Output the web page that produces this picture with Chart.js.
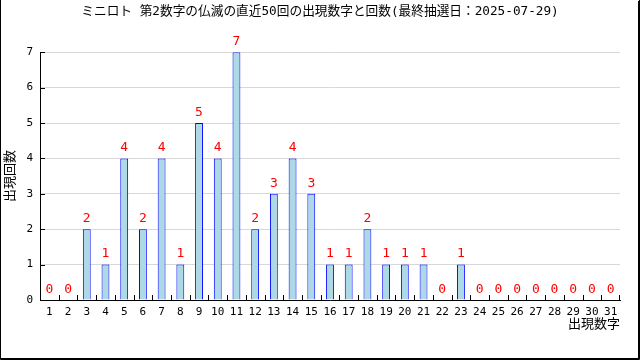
<!DOCTYPE html>
<html>
<head>
<meta charset="utf-8">
<script src="https://cdn.jsdelivr.net/npm/chart.js@4.4.0/dist/chart.umd.min.js"></script>
<style>
html,body{margin:0;padding:0;background:#fff;}
#wrap{width:640px;height:360px;position:relative;}
</style>
</head>
<body>
<div id="wrap"><canvas id="c" width="640" height="360"></canvas></div>
<script>
const titleText = "ミニロト 第2数字の仏滅の直近50回の出現数字と回数(最終抽選日：2025-07-29)";
const xTitle = "出現数字";
const yTitle = "出現回数";
const numbers = ["1","2","3","4","5","6","7","8","9","10","11","12","13","14","15","16","17","18","19","20","21","22","23","24","25","26","27","28","29","30","31"];
const counts = [0,0,2,1,4,2,4,1,5,4,7,2,3,4,3,1,1,2,1,1,1,0,1,0,0,0,0,0,0,0,0];
const yTicks = [0,1,2,3,4,5,6,7];

const FONT = '"DejaVu Sans Mono", "Noto Sans CJK JP", monospace';

const framePlugin = {
  id: 'frame',
  beforeDraw(chart) {
    const ctx = chart.ctx;
    ctx.save();
    ctx.fillStyle = '#fff';
    ctx.fillRect(0, 0, chart.width, chart.height);
    ctx.restore();
  },
  afterDraw(chart) {
    const ctx = chart.ctx;
    ctx.save();
    ctx.strokeStyle = '#000';
    ctx.lineWidth = 1;
    ctx.beginPath();
    ctx.moveTo(0.5, 0); ctx.lineTo(0.5, 359.5);
    ctx.lineTo(639.5, 359.5); ctx.lineTo(639.5, 0);
    ctx.stroke();
    ctx.beginPath();
    ctx.moveTo(1, 358.5); ctx.lineTo(639, 358.5);
    ctx.moveTo(638.5, 1); ctx.lineTo(638.5, 359);
    ctx.stroke();
    ctx.restore();
  }
};

const ticksPlugin = {
  id: 'innerTicks',
  afterDatasetsDraw(chart) {
    const ctx = chart.ctx;
    const xs = chart.scales.x, ys = chart.scales.y;
    const area = chart.chartArea;
    ctx.save();
    ctx.strokeStyle = '#000';
    ctx.lineWidth = 1;
    ctx.beginPath();
    const half = (xs.getPixelForValue(1) - xs.getPixelForValue(0)) / 2;
    for (let i = 0; i < numbers.length; i++) {
      const px = Math.round(xs.getPixelForValue(i) - half) + 0.5;
      ctx.moveTo(px, area.bottom); ctx.lineTo(px, area.bottom - 5);
    }
    const pr = Math.round(xs.getPixelForValue(numbers.length - 1) + half) - 0.5;
    ctx.moveTo(pr, area.bottom); ctx.lineTo(pr, area.bottom - 5);
    yTicks.forEach(v => {
      const py = Math.round(ys.getPixelForValue(v)) + 0.5;
      ctx.moveTo(area.left, py); ctx.lineTo(area.left + 5, py);
    });
    ctx.stroke();
    // data labels
    const meta = chart.getDatasetMeta(0);
    ctx.fillStyle = '#ff0000';
    ctx.font = '13px ' + FONT;
    ctx.textAlign = 'center';
    ctx.textBaseline = 'bottom';
    meta.data.forEach((bar, i) => {
      ctx.fillText(String(counts[i]), bar.x, bar.y - 4);
    });
    ctx.restore();
  }
};

new Chart(document.getElementById('c'), {
  type: 'bar',
  data: {
    labels: numbers,
    datasets: [{
      data: counts,
      backgroundColor: '#add8e6',
      borderColor: '#0000ff',
      borderWidth: 1,
      borderSkipped: 'bottom',
      categoryPercentage: 1.0,
      barPercentage: 0.42,
      inflateAmount: 0
    }]
  },
  options: {
    responsive: false,
    animation: false,
    devicePixelRatio: 1,
    layout: { padding: 0 },
    plugins: {
      legend: { display: false },
      tooltip: { enabled: false },
      title: {
        display: true,
        text: titleText,
        color: '#000',
        font: { family: FONT, size: 12.7, weight: 'normal' },
        padding: { top: 4, bottom: 33 }
      }
    },
    scales: {
      x: {
        grid: { display: false, drawTicks: false },
        border: { display: true, color: '#000', width: 1 },
        ticks: { color: '#000', font: { family: FONT, size: 11 }, padding: 6, maxRotation: 0, autoSkip: false },
        title: { display: true, text: xTitle, align: 'end', color: '#000', font: { family: FONT, size: 13 }, padding: { top: 0, bottom: 28 } },
        afterFit(s) { s.height = 60; }
      },
      y: {
        min: 0, max: 7,
        grid: { color: '#d8d8d8', drawTicks: false },
        border: { display: true, color: '#000', width: 1 },
        ticks: { stepSize: 1, color: '#000', font: { family: FONT, size: 11 }, padding: 7 },
        title: { display: true, text: yTitle, color: '#000', font: { family: FONT, size: 13 }, padding: { top: 3, bottom: 0 } },
        afterFit(s) { s.width = 40; }
      },
      yRight: {
        position: 'right',
        display: true,
        grid: { display: false, drawTicks: false },
        border: { display: false },
        ticks: { display: false },
        afterFit(s) { s.width = 20; }
      }
    }
  },
  plugins: [framePlugin, ticksPlugin]
});
</script>
</body>
</html>
